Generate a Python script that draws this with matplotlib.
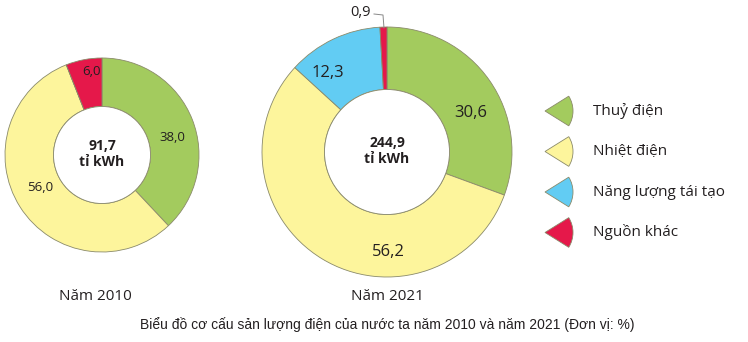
import matplotlib.pyplot as plt
from matplotlib.patches import Wedge, Circle
import numpy as np

# shares of electricity output by source (%)
sources = ['Thuỷ điện', 'Nhiệt điện', 'Năng lượng tái tạo', 'Nguồn khác']
colors = ['#a3cb5e', '#fdf59c', '#62ccf3', '#e5184a']
share_2010 = [38.0, 56.0, 0.0, 6.0]
share_2021 = [30.6, 56.2, 12.3, 0.9]
total_2010 = '91,7'
total_2021 = '244,9'

plt.rcParams['font.family'] = ['Open Sans', 'DejaVu Sans']

fig = plt.figure(figsize=(7.48, 3.42), dpi=100)
ax = fig.add_axes([0, 0, 1, 1])
ax.set_xlim(0, 748)
ax.set_ylim(0, 342)
ax.set_aspect('equal')
ax.axis('off')


def fmt(v):
    return f'{v:.1f}'.replace('.', ',')


def donut(values, center, radius, total, label_pos, fs):
    ax.pie(values, colors=colors, startangle=90, counterclock=False,
           radius=radius, center=center, frame=True,
           wedgeprops=dict(width=radius * 0.5, edgecolor='#8a8a6a',
                           linewidth=0.6))
    ax.add_patch(Circle(center, radius * 0.5, facecolor='white',
                        edgecolor='#8a8a6a', linewidth=0.6))
    ax.text(center[0], center[1] + 1, f'{total}\ntỉ kWh', ha='center',
            va='center', fontsize=10, fontweight='bold', color='#231f20',
            linespacing=1.25)
    for v, pos in zip(values, label_pos):
        if v == 0 or pos is None:
            continue
        ang, r = pos
        x = center[0] + r * radius * np.cos(np.radians(ang))
        y = center[1] + r * radius * np.sin(np.radians(ang))
        ax.text(x, y, fmt(v), ha='center', va='center', fontsize=fs,
                color='#231f20')


# 2010 chart
donut(share_2010, (102, 342 - 155), 97, total_2010,
      [(14, 0.75), (208, 0.72), None, (97, 0.87)], 9.5)
# 2021 chart
donut(share_2021, (387, 342 - 152), 125, total_2021,
      [(25, 0.74), (-89, 0.8), (127, 0.79), None], 12)

# small slice label with leader line
ax.text(361, 342 - 13, fmt(share_2021[3]), ha='center', va='center',
        fontsize=10.5, color='#231f20')
ax.plot([374, 383, 384], [342 - 14, 342 - 15, 342 - 28], color='#888888',
        linewidth=0.7)

ax.text(95, 342 - 297, 'Năm 2010', ha='center', va='center', fontsize=11,
        color='#231f20')
ax.text(387, 342 - 297, 'Năm 2021', ha='center', va='center', fontsize=11,
        color='#231f20')

# legend with wedge-shaped keys
for i, (name, c) in enumerate(zip(sources, colors)):
    y = 342 - (111 + i * 40.5)
    ax.add_patch(Wedge((545, y), 28, -32, 32, facecolor=c,
                       edgecolor='#8a8a6a', linewidth=0.6))
    ax.text(593, y, name, ha='left', va='center', fontsize=11,
            color='#231f20')

ax.text(387, 342 - 325, 'Biểu đồ cơ cấu sản lượng điện của nước ta năm 2010 '
        'và năm 2021 (Đơn vị: %)', ha='center', va='center', fontsize=10,
        family=['Liberation Sans', 'DejaVu Sans'], color='#231f20')

ax.set_xlim(0, 748)
ax.set_ylim(0, 342)
ax.axis('off')

fig.savefig('out.png', dpi=100)
